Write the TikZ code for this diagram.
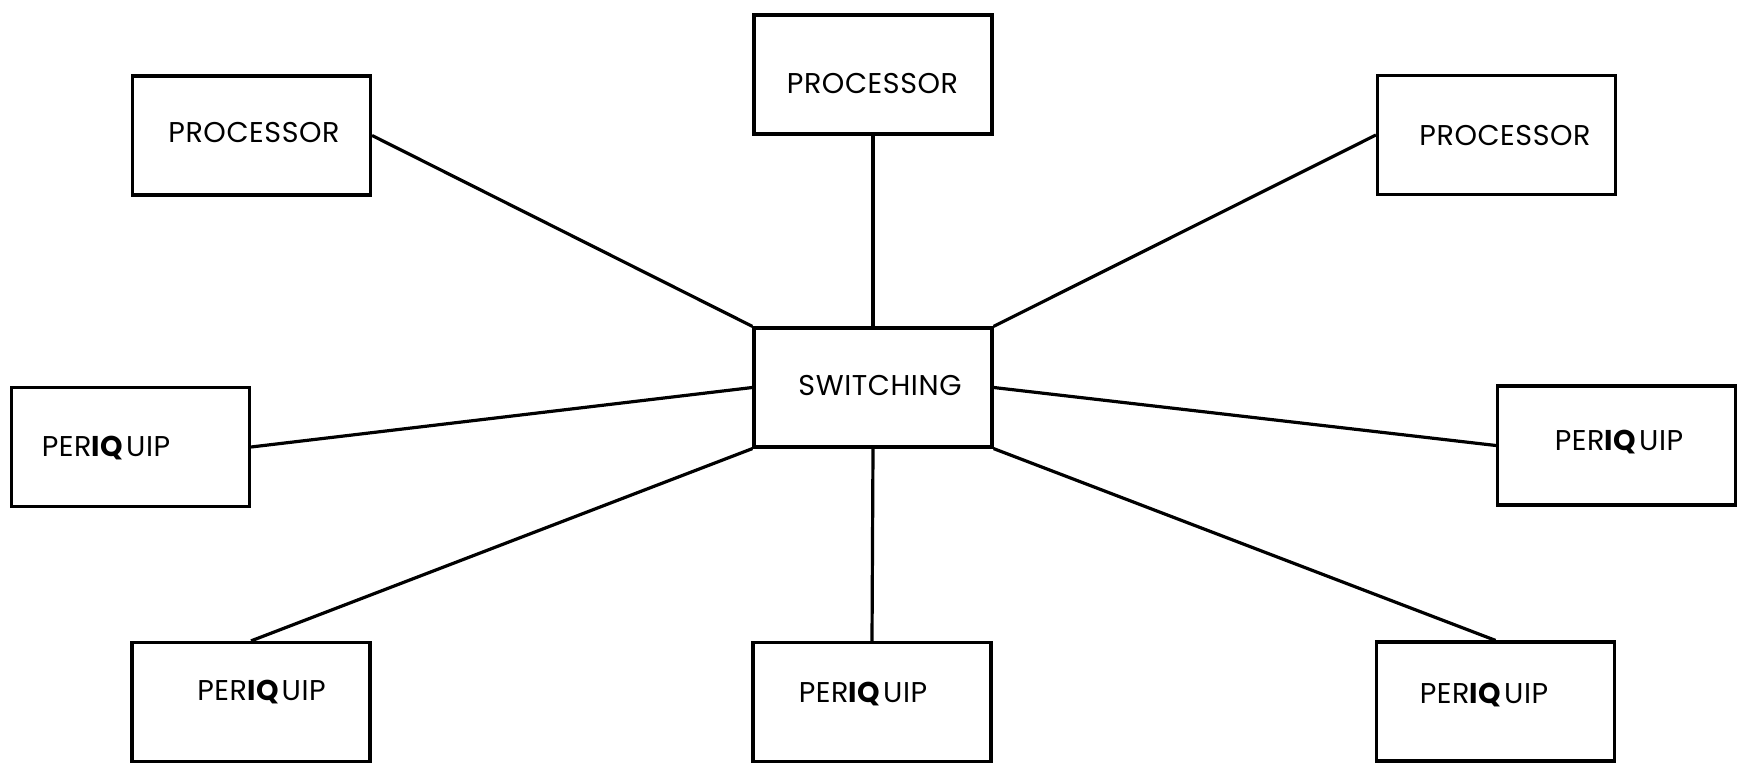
\documentclass[tikz,border=0pt]{standalone}
\usepackage{fontspec}
\setmainfont{Poppins}
\begin{document}
\begin{tikzpicture}[x=0.5pt,y=-0.5pt,
  unitbox/.style={draw,line width=1.6pt,rectangle,minimum width=119pt,minimum height=59.5pt,inner sep=0pt},
  boxlabel/.style={anchor=base,inner sep=0pt,font=\fontsize{14.3}{17}\selectfont\addfontfeatures{LetterSpace=2}},
  link/.style={line width=1.6pt}]
\useasboundingbox (0,0) rectangle (1752,764);

% units around the switch
\node[unitbox] (tl) at (251.5,135.5) {};
\node[unitbox] (tp) at (873,74.5) {};
\node[unitbox] (tr) at (1496.5,135) {};
\node[unitbox] (sw) at (873,387.5) {};
\node[unitbox] (lp) at (130.5,447) {};
\node[unitbox] (rp) at (1616.5,445.5) {};
\node[unitbox] (bl) at (251,702) {};
\node[unitbox] (bp) at (872,702) {};
\node[unitbox] (br) at (1495.5,701.5) {};

% labels
\newcommand{\periquip}{PER{\bfseries IQ}\kern1.5pt UIP}
\node[boxlabel] (tltext) at (254,143) {PROCESSOR};
\node[boxlabel] (tptext) at (872.5,94) {PROCESSOR};
\node[boxlabel] (trtext) at (1505,146) {PROCESSOR};
\node[boxlabel] (swtext) at (880,396) {SWITCHING};
\node[boxlabel] (lptext) at (106,457) {\periquip};
\node[boxlabel] (rptext) at (1619,451) {\periquip};
\node[boxlabel] (bltext) at (261.5,700) {\periquip};
\node[boxlabel] (bptext) at (863,702) {\periquip};
\node[boxlabel] (brtext) at (1484,703) {\periquip};

% connections to the switch
\draw[link] (tl.east) -- (sw.north west);
\draw[link] (tp.south) -- (sw.north);
\draw[link] (tr.west) -- (sw.north east);
\draw[link] (lp.east) -- (sw.west);
\draw[link] (rp.west) -- (sw.east);
\draw[link] (bl.north) -- (sw.south west);
\draw[link] (bp.north) -- (sw.south);
\draw[link] (br.north) -- (sw.south east);
\end{tikzpicture}
\end{document}
